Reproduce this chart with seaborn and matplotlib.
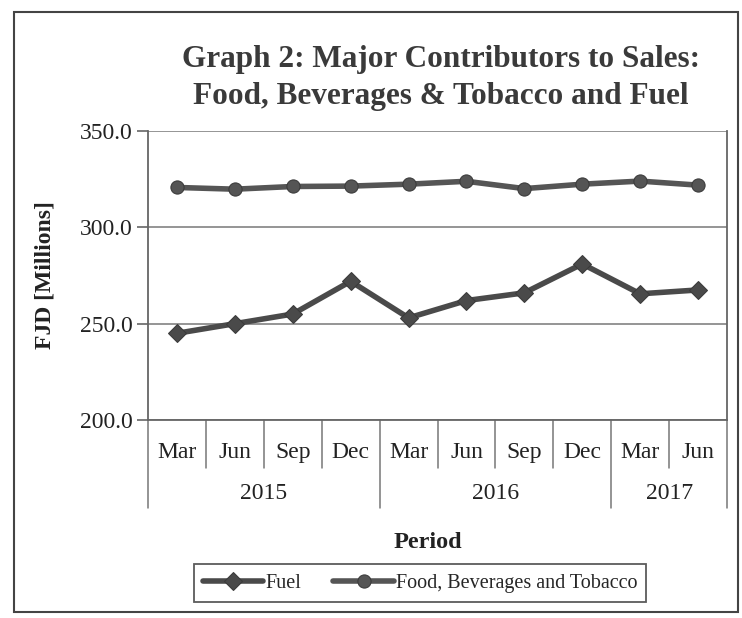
import matplotlib.pyplot as plt
import matplotlib.transforms as mtransforms
from matplotlib.patches import Rectangle
import pandas as pd
import seaborn as sns

# Data (FJD millions)
months = ["Mar", "Jun", "Sep", "Dec", "Mar", "Jun", "Sep", "Dec", "Mar", "Jun"]
years = ["2015", "2016", "2017"]
months_per_year = [4, 4, 2]
fuel = [245.0, 250.0, 255.0, 272.0, 253.0, 262.0, 266.0, 281.0, 265.5, 267.5]
food = [320.7, 319.8, 321.2, 321.4, 322.4, 323.9, 320.1, 322.4, 324.0, 321.9]
series_names = ["Fuel", "Food, Beverages and Tobacco"]
y_ticks = [200.0, 250.0, 300.0, 350.0]

# long format for seaborn
idx = list(range(len(months)))
df = pd.concat([
    pd.DataFrame({"idx": idx, "value": fuel, "series": series_names[0]}),
    pd.DataFrame({"idx": idx, "value": food, "series": series_names[1]}),
])

sns.set_style("white")
plt.rcParams["font.family"] = ["Liberation Serif", "DejaVu Serif"]

W, H = 742, 618
fig = plt.figure(figsize=(W / 100, H / 100), dpi=100)
ax = fig.add_axes([148 / W, 1 - 420 / H, (727 - 148) / W, (420 - 131) / H])

sns.lineplot(data=df, x="idx", y="value", hue="series", style="series",
             palette={series_names[0]: "#4a4a4a", series_names[1]: "#555555"},
             markers={series_names[0]: "D", series_names[1]: "o"},
             dashes=False, linewidth=4.0, markersize=9.5, markeredgecolor="#3a3a3a",
             sort=False, ax=ax)

ax.set_xlim(-0.5, len(months) - 0.5)
ax.set_ylim(200, 350)
ax.set_yticks(y_ticks)
ax.set_yticklabels([f"{v:.1f}" for v in y_ticks], fontsize=17, color="#222222")
ax.set_xticks([])
ax.set_xlabel("")
ax.set_ylabel("")
ax.yaxis.grid(True, color="#8c8c8c", linewidth=1.3)
ax.tick_params(axis="y", length=8, width=1.2, color="#666666", pad=3, left=True)
ax.spines["top"].set_visible(False)
for s in ["left", "bottom", "right"]:
    ax.spines[s].set_color("#666666")
    ax.spines[s].set_linewidth(1.3)

# multi-level category axis (months / years)
blend = mtransforms.blended_transform_factory(ax.transData, ax.transAxes)
month_y, year_y = -0.111, -0.253
month_bottom, year_bottom = -0.166, -0.305
for i, m in enumerate(months):
    ax.text(i, month_y, m, transform=blend, ha="center", va="center",
            fontsize=17, color="#222222")
year_edges = [0]
for n in months_per_year:
    year_edges.append(year_edges[-1] + n)
for b in range(len(months) + 1):
    bottom = year_bottom if b in year_edges else month_bottom
    ax.plot([b - 0.5, b - 0.5], [0, bottom], transform=blend, clip_on=False,
            color="#777777", linewidth=1.1)
for y, start, n in zip(years, year_edges[:-1], months_per_year):
    ax.text(start + n / 2 - 0.5, year_y, y, transform=blend, ha="center",
            va="center", fontsize=17, color="#222222")

# titles and labels
fig.text(441 / W, 1 - 78 / H,
         "Graph 2: Major Contributors to Sales:\nFood, Beverages & Tobacco and Fuel",
         ha="center", va="center", fontsize=22.5, fontweight="bold",
         color="#3a3a3a", linespacing=1.4)
fig.text(45 / W, 1 - 275 / H, "FJD [Millions]", rotation=90, ha="center",
         va="center", fontsize=17, fontweight="bold", color="#222222")
fig.text(428 / W, 1 - 543 / H, "Period", ha="center", va="center",
         fontsize=17.5, fontweight="bold", color="#222222")

# legend
handles, labels = ax.get_legend_handles_labels()
ax.get_legend().remove()
leg = fig.legend(handles, labels, loc="center", bbox_to_anchor=(420 / W, 1 - 583 / H),
                 ncol=2, fontsize=14.5, frameon=True, fancybox=False,
                 edgecolor="#333333", handlelength=3.0, handletextpad=0.1,
                 columnspacing=1.6, borderpad=0.45)
leg.get_frame().set_linewidth(1.3)

# chart border
fig.patches.append(Rectangle((14 / W, 6 / H), (738 - 14) / W, (606 - 6) / H,
                             transform=fig.transFigure, fill=False,
                             edgecolor="#444444", linewidth=1.5))

fig.savefig("out.png", dpi=100, facecolor="white")
